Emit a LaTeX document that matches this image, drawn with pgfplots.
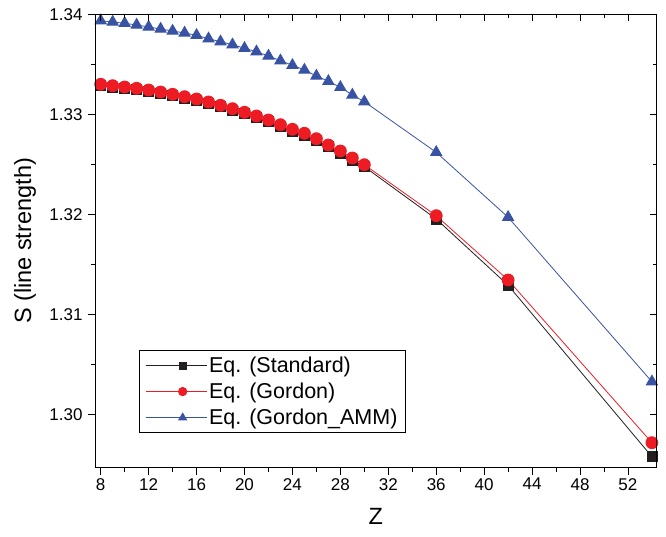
\documentclass[border=0pt]{standalone}
\usepackage{fontspec}
\setmainfont{Liberation Sans}
\usepackage{pgfplots}
\usepackage{pgfplotstable}
\pgfplotsset{compat=1.18}

\definecolor{cblack}{HTML}{231F20}
\definecolor{cred}{HTML}{ED1C24}
\definecolor{cblue}{HTML}{3953A4}

% Z, S for the three equations
\pgfplotstableread{
Z  std     gordon  amm
8  1.33285 1.33300 1.33936
9  1.33271 1.33286 1.33923
10 1.33258 1.33273 1.33910
11 1.33245 1.33260 1.33893
12 1.33228 1.33243 1.33873
13 1.33208 1.33223 1.33853
14 1.33185 1.33200 1.33833
15 1.33161 1.33176 1.33813
16 1.33138 1.33153 1.33790
17 1.33108 1.33123 1.33756
18 1.33075 1.33090 1.33726
19 1.33040 1.33056 1.33696
20 1.33004 1.33020 1.33660
21 1.32967 1.32983 1.33626
22 1.32926 1.32943 1.33583
23 1.32879 1.32896 1.33536
24 1.32833 1.32850 1.33490
25 1.32792 1.32810 1.33443
26 1.32738 1.32756 1.33383
27 1.32674 1.32693 1.33330
28 1.32613 1.32633 1.33270
29 1.32543 1.32563 1.33193
30 1.32476 1.32496 1.33126
36 1.31953 1.31986 1.32620
42 1.31290 1.31343 1.31970
54 1.29576 1.29716 1.30326
}\data

\pgfplotsset{
  frame/.style={
    scale only axis, width=561.7pt, height=453.4pt,
    xmin=7.525, xmax=54.4, ymin=1.29466, ymax=1.34,
    xtick={8,12,...,52}, minor x tick num=1,
    ytick={1.30,1.31,1.32,1.33,1.34}, minor y tick num=1,
    scaled y ticks=false,
    major tick length=7pt, minor tick length=4pt,
    every tick/.style={black, line width=0.8pt},
    axis line style={black, line width=0.9pt},
  }
}

\begin{document}
\begin{tikzpicture}
\begin{axis}[
    frame,
    tick align=outside, xtick pos=left, ytick pos=left,
    ticklabel style={font=\fontsize{17}{20}\selectfont},
    /pgf/number format/assume math mode=true,
    yticklabel style={xshift=-2pt, /pgf/number format/.cd, fixed, fixed zerofill, precision=2},
    xlabel={Z}, ylabel={S (line strength)},
    label style={font=\fontsize{23.5}{28}\selectfont},
    xlabel style={at={(axis description cs:0.5,-0.108)}, anchor=center},
    ylabel style={at={(axis description cs:-0.1246,0.5)}, anchor=center},
    legend style={at={(0.0783,0.0765)}, anchor=south west, draw=black,
        line width=0.6pt, font=\fontsize{21.5}{25}\selectfont,
        inner xsep=6pt, inner ysep=4.5pt, row sep=5pt},
    legend cell align=left,
    legend image code/.code={
        \path (0pt,0pt) -- (13pt,0pt);
        \draw[mark repeat=2, mark phase=2, every mark/.append style={scale=0.7}]
        plot coordinates {(13pt,0pt) (37pt,0pt) (61pt,0pt)};},
]
\addplot[cblack, line width=0.8pt, mark=square*, mark size=5pt,
    mark options={fill=cblack, draw=cblack}] table[x=Z, y=std] {\data};
\addlegendentry{Eq. (Standard)}
\addplot[cred, line width=0.8pt, mark=*, mark size=6pt,
    mark options={fill=cred, draw=cred}] table[x=Z, y=gordon] {\data};
\addlegendentry{Eq. (Gordon)}
\addplot[cblue, line width=0.8pt, mark=triangle*, mark size=6.5pt,
    mark options={fill=cblue, draw=cblue}] table[x=Z, y=amm] {\data};
\addlegendentry{Eq. (Gordon\_AMM)}
\coordinate (o) at (rel axis cs:0,0);
\end{axis}
\begin{axis}[
    frame,
    tick align=inside, xtick pos=right, ytick pos=right,
    xticklabels={}, yticklabels={},
]
\end{axis}
\path (o) ++(-95pt,-69.3pt) rectangle ++(666pt,537pt);
\end{tikzpicture}
\end{document}
